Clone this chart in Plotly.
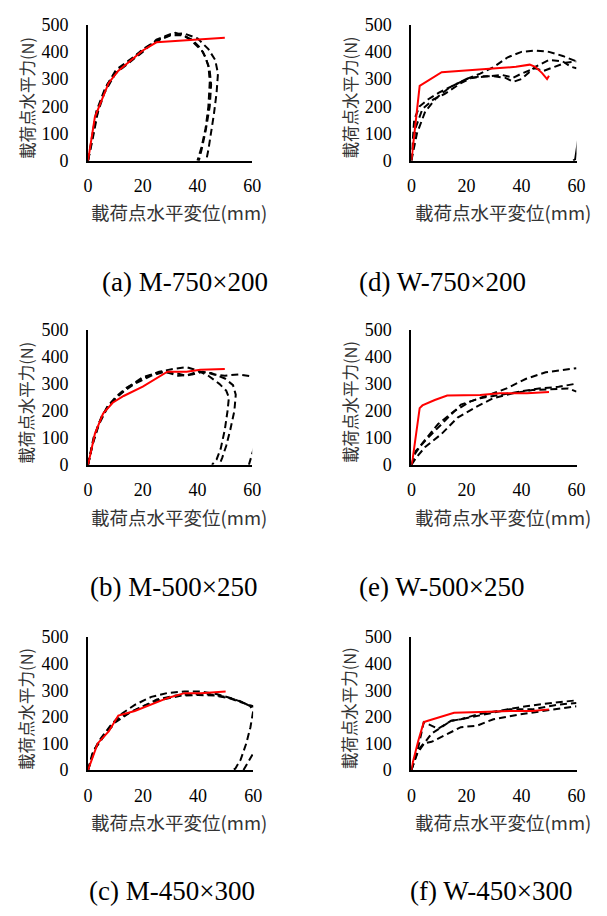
import plotly.graph_objects as go

W, H = 607, 916

# ---------------- DATA ----------------
# (a) M-750x200
a_red_x = [0, 2.5, 7.5, 11, 20, 25, 36, 50]
a_red_y = [0, 160, 285, 330, 405, 435, 443, 452]
a_d1_x = [0, 1, 3, 6, 10, 15, 20, 25, 30, 34, 38, 41, 43, 44.5, 45, 44.5, 43, 41.5, 40.5]
a_d1_y = [0, 60, 180, 260, 330, 365, 410, 440, 460, 462, 445, 415, 380, 330, 280, 200, 110, 40, 0]
a_d2_x = [0, 1, 3, 6, 10, 15, 20, 25, 30, 35, 40, 44, 46.5, 47.5, 47, 46, 45, 44, 43.2]
a_d2_y = [0, 50, 160, 250, 320, 360, 400, 445, 465, 468, 450, 410, 370, 320, 250, 170, 100, 40, 0]
a_d3_x = [0, 1.5, 4, 7, 11, 16, 22, 27, 32, 36, 39, 42, 44, 44.5, 44, 43, 41.5, 40]
a_d3_y = [0, 70, 200, 280, 340, 375, 420, 450, 470, 455, 430, 400, 350, 290, 200, 120, 50, 0]

# (b) M-500x250
b_red_x = [0, 2.5, 5.5, 9, 13, 20, 29, 36, 41, 50]
b_red_y = [0, 115, 190, 230, 255, 290, 345, 345, 352, 355]
b_d1_x = [0, 2, 4, 7, 10, 14, 20, 26, 31, 36, 40, 44, 48, 50.5, 51.5, 51, 50, 48.5, 47, 45.3]
b_d1_y = [0, 90, 155, 215, 250, 285, 320, 345, 355, 362, 350, 330, 300, 275, 250, 200, 130, 60, 20, 0]
b_d2_x = [0, 1.5, 4, 7, 10, 15, 20, 27, 32, 36, 40, 45, 50, 53, 54, 53.5, 52, 50.5, 49, 48]
b_d2_y = [0, 70, 150, 210, 245, 290, 325, 345, 340, 330, 345, 340, 320, 295, 260, 200, 130, 70, 25, 0]
b_d3_x = [0, 2, 5, 8, 12, 17, 23, 28, 33, 38, 42, 46, 50, 55, 60, 62, None, 58.8, 61]
b_d3_y = [0, 100, 180, 225, 265, 300, 330, 345, 330, 335, 345, 335, 330, 335, 327, 325, None, 0, 75]

# (c) M-450x300
c_red_x = [0, 3.5, 7.5, 11, 17, 23, 29, 35, 41, 50]
c_red_y = [0, 100, 145, 205, 222, 246, 271, 289, 289, 295]
c_d1_x = [0, 1.5, 4, 8, 12, 17, 23, 29, 35, 41, 47, 52, 56, 59, 60, 59, 57.5, 55.5, 53.5, 52.5]
c_d1_y = [0, 60, 110, 165, 210, 245, 275, 290, 295, 295, 285, 270, 255, 240, 220, 160, 100, 40, 5, 0]
c_d2_x = [0, 2, 5, 9, 13, 18, 25, 32, 38, 44, 50, 55, 58, 61]
c_d2_y = [0, 70, 120, 175, 205, 230, 265, 280, 285, 285, 275, 260, 245, 238]
c_d3_x = [0, 2.5, 6, 10, 15, 20, 27, 34, 40, 46, 52, 57, 61, None, 56.5, 61]
c_d3_y = [0, 80, 130, 180, 215, 240, 265, 280, 282, 280, 268, 250, 235, None, 0, 80]

# (d) W-750x200
d_red_x = [0, 0.3, 3, 11, 25, 38, 43, 45, 47.5, 49.3, 50]
d_red_y = [0, 30, 275, 325, 335, 345, 353, 345, 322, 300, 312]
d_d1_x = [0, 1, 3, 6, 10, 15, 20, 25, 30, 35, 40, 45, 50, 55, 60]
d_d1_y = [0, 150, 200, 225, 250, 275, 300, 320, 345, 380, 400, 405, 400, 385, 365]
d_d2_x = [0, 1.5, 4, 8, 12, 18, 22, 28, 33, 37, 40, 45, 48, 52, 56, 60]
d_d2_y = [0, 120, 190, 225, 245, 285, 305, 310, 315, 305, 320, 340, 330, 345, 360, 365]
d_d3_x = [0, 2, 5, 9, 14, 20, 25, 30, 34, 37, 40, 45, 50, 55, 58, 60]
d_d3_y = [0, 100, 180, 230, 270, 300, 310, 310, 305, 290, 300, 345, 370, 365, 345, 340]
d_k_x = [58.8, 59.5, 61]
d_k_y = [0, 5, 105]

# (e) W-500x250
e_red_x = [0, 0.5, 3, 4, 8.5, 13, 25, 32, 42, 50]
e_red_y = [0, 25, 210, 220, 240, 257, 259, 265, 265, 270]
e_d1_x = [0, 1.4, 3.8, 9.7, 15.6, 21.5, 29.8, 34.6, 41.7, 48.8, 60]
e_d1_y = [0, 42, 78, 151, 199, 235, 265, 283, 319, 343, 358]
e_d2_x = [0, 1.5, 6.2, 12, 18, 25, 32, 39.3, 46.4, 53.5, 60]
e_d2_y = [0, 50, 102, 163, 223, 247, 259, 271, 283, 289, 301]
e_d3_x = [0, 2, 5, 10.9, 16.8, 23.9, 29.8, 36.9, 44, 52.3, 57, 60]
e_d3_y = [0, 30, 66, 114, 175, 217, 247, 265, 277, 281, 283, 271]

# (f) W-450x300
f_red_x = [0, 0.3, 2.5, 4.5, 6, 11, 15.5, 25, 36, 44, 50]
f_red_y = [0, 20, 110, 180, 185, 200, 215, 218, 222, 222, 228]
f_d1_x = [0, 2, 4.5, 9.7, 14.4, 18, 24, 32, 41.7, 51, 60]
f_d1_y = [0, 63, 180, 155, 185, 191, 209, 222, 240, 252, 262]
f_d2_x = [0, 2.6, 4.4, 7.3, 12, 18, 24, 29.8, 39.3, 48.8, 60]
f_d2_y = [0, 76, 100, 106, 130, 161, 167, 191, 209, 222, 240]
f_d3_x = [0, 1.4, 3.8, 7.3, 10.9, 14.4, 18, 25, 35.7, 44, 53.5, 60]
f_d3_y = [0, 51, 88, 137, 161, 185, 191, 205, 228, 228, 246, 252]

x_ticks = [0, 20, 40, 60]
y_ticks = [0, 100, 200, 300, 400, 500]
x_title = "載荷点水平変位(mm)"
y_title = "載荷点水平力(N)"
captions = ["(a) M-750×200", "(b) M-500×250", "(c) M-450×300",
            "(d) W-750×200", "(e) W-500×250", "(f) W-450×300"]

# ---------------- LAYOUT ----------------
# pixel boxes for each panel: (x0, x1, ytop, ybottom)
boxes = [
    (85, 253, 15, 154),
    (85, 253, 327, 465),
    (85, 254, 641, 777),
    (416, 585, 15, 154),
    (416, 585, 327, 465),
    (416, 585, 641, 777),
]
cap_pos = [(97, 278), (85, 590), (84, 901), (360, 278), (360, 590), (413, 901)]

panels = [
    (a_red_x, a_red_y, [(a_d1_x, a_d1_y), (a_d2_x, a_d2_y), (a_d3_x, a_d3_y)], []),
    (b_red_x, b_red_y, [(b_d1_x, b_d1_y), (b_d2_x, b_d2_y), (b_d3_x, b_d3_y)], []),
    (c_red_x, c_red_y, [(c_d1_x, c_d1_y), (c_d2_x, c_d2_y), (c_d3_x, c_d3_y)], []),
    (d_red_x, d_red_y, [(d_d1_x, d_d1_y), (d_d2_x, d_d2_y), (d_d3_x, d_d3_y)], [(d_k_x, d_k_y)]),
    (e_red_x, e_red_y, [(e_d1_x, e_d1_y), (e_d2_x, e_d2_y), (e_d3_x, e_d3_y)], []),
    (f_red_x, f_red_y, [(f_d1_x, f_d1_y), (f_d2_x, f_d2_y), (f_d3_x, f_d3_y)], []),
]

SERIF = "Liberation Serif"
TITLEF = "Noto Sans CJK JP"

fig = go.Figure()
annotations = []
layout = dict(
    width=W, height=H,
    margin=dict(l=0, r=0, t=0, b=0),
    paper_bgcolor="white", plot_bgcolor="white",
    showlegend=False,
)

for i, (box, panel) in enumerate(zip(boxes, panels)):
    n = i + 1
    xa = "x" if n == 1 else f"x{n}"
    ya = "y" if n == 1 else f"y{n}"
    x0, x1, yt, yb = box
    rx, ry, dashed, solid_k = panel
    for dx, dy in dashed:
        fig.add_trace(go.Scatter(x=dx, y=dy, mode="lines", xaxis=xa, yaxis=ya,
                                 line=dict(color="black", width=2, dash="7px,4px"),
                                 connectgaps=False, hoverinfo="skip"))
    for kx, ky in solid_k:
        fig.add_trace(go.Scatter(x=kx, y=ky, mode="lines", xaxis=xa, yaxis=ya,
                                 line=dict(color="black", width=2), hoverinfo="skip"))
    fig.add_trace(go.Scatter(x=rx, y=ry, mode="lines", xaxis=xa, yaxis=ya,
                             line=dict(color="red", width=2), hoverinfo="skip"))

    xkey = "xaxis" if n == 1 else f"xaxis{n}"
    ykey = "yaxis" if n == 1 else f"yaxis{n}"
    layout[xkey] = dict(
        domain=[x0 / W, x1 / W], anchor=ya, range=[0, 60],
        tickvals=x_ticks, showgrid=False, zeroline=False,
        showline=True, linecolor="black", linewidth=2, ticks="",
        ticklabelstandoff=8,
        tickfont=dict(family=SERIF, size=18, color="black"),
    )
    layout[ykey] = dict(
        domain=[1 - yb / H, 1 - yt / H], anchor=xa, range=[0, 500],
        tickvals=y_ticks, showgrid=False, zeroline=False,
        showline=True, linecolor="black", linewidth=2, ticks="",
        ticklabelstandoff=14,
        tickfont=dict(family=SERIF, size=18, color="black"),
    )
    annotations.append(dict(
        text=x_title, xref="paper", yref="paper",
        x=((x0 + x1) / 2 + 9) / W, y=1 - (yb + 53) / H,
        xanchor="center", yanchor="middle", showarrow=False,
        font=dict(family=TITLEF, size=18.5, color="#333333")))
    annotations.append(dict(
        text=y_title, xref="paper", yref="paper",
        x=(x0 - 63) / W, y=1 - ((yt + yb) / 2 + 5) / H,
        xanchor="center", yanchor="middle", showarrow=False, textangle=-90,
        font=dict(family=TITLEF, size=16.5, color="#333333")))
    cx, cy = cap_pos[i]
    annotations.append(dict(
        text=captions[i], xref="paper", yref="paper",
        x=cx / W, y=1 - cy / H, xanchor="left", yanchor="middle",
        showarrow=False, font=dict(family=SERIF, size=27, color="black")))

layout["annotations"] = annotations
fig.update_layout(**layout)
fig.write_html("out.html")
